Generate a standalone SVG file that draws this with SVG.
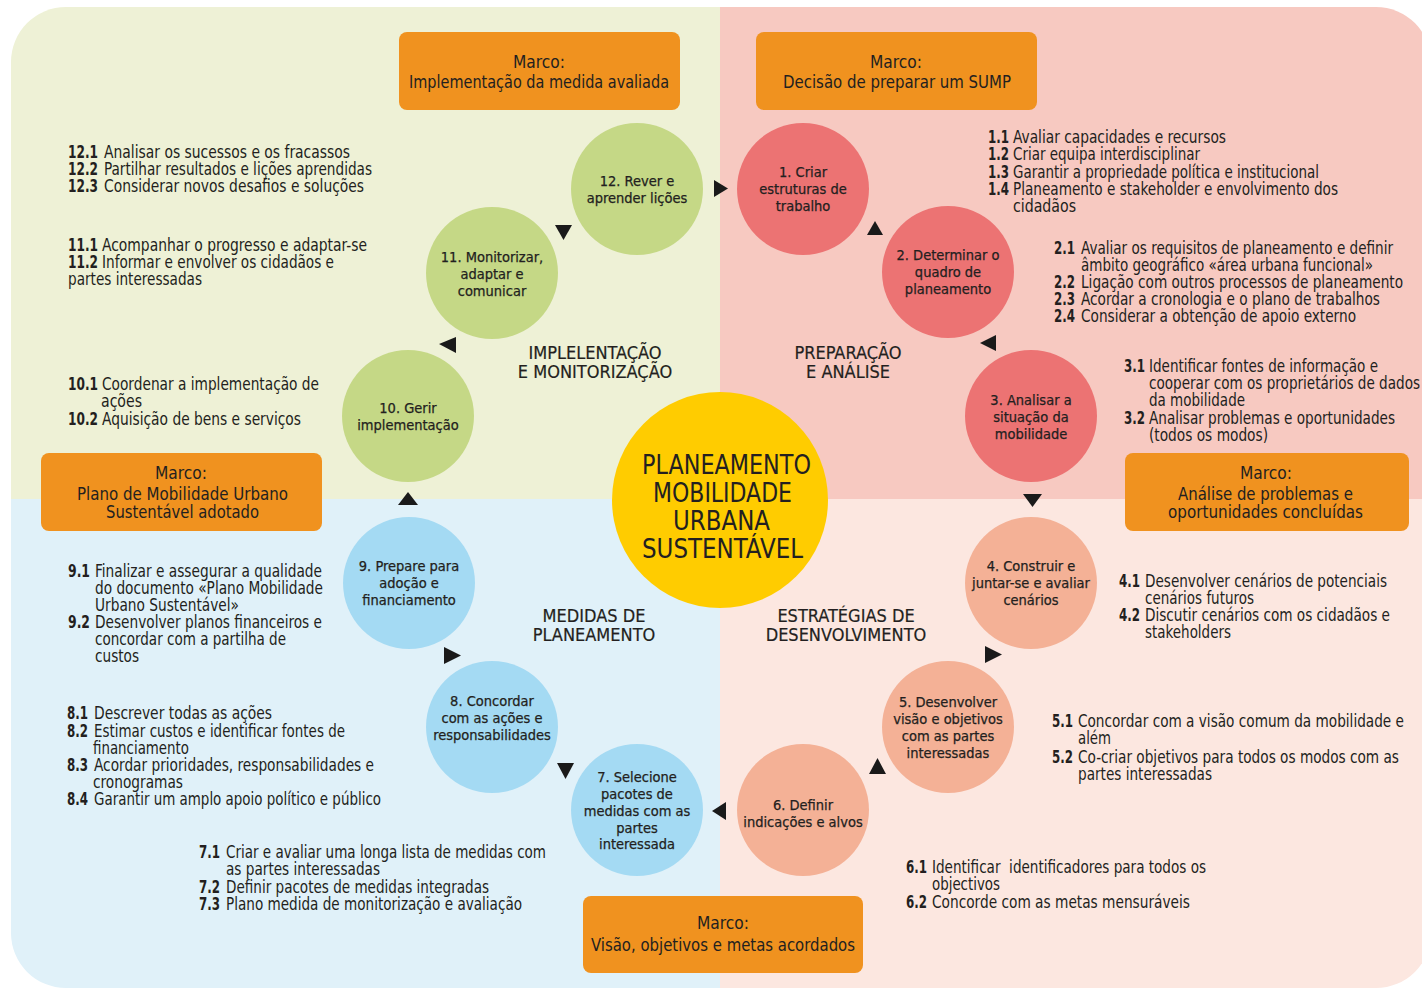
<svg xmlns="http://www.w3.org/2000/svg" width="1422" height="988" viewBox="0 0 1422 988">
<style>
.t{font-family:"DejaVu Sans Condensed","Liberation Sans",sans-serif;fill:#231F20}
.li{font-size:17px}
.b{font-weight:bold}
.c{font-size:14.5px;text-anchor:middle;stroke:#231F20;stroke-width:0.25}
.m{font-size:18px}
.s{font-size:18px;text-anchor:middle;stroke:#231F20;stroke-width:0.2}
.h{font-size:26px}
.ob{fill:#F0921F}
.g{fill:#C5D886}.r{fill:#EC7373}.bl{fill:#A4DAF3}.p{fill:#F4B196}
.ar{fill:#1A1A1A}
</style>
<defs>
<clipPath id="bgc"><rect x="11" y="7" width="1420" height="981" rx="55"/></clipPath>
</defs>
<g id="background" clip-path="url(#bgc)">
<rect x="0" y="0" width="720" height="499" fill="#EEF1D6"/>
<rect x="720" y="0" width="702" height="499" fill="#F7C9C1"/>
<rect x="0" y="499" width="720" height="489" fill="#E0F1F9"/>
<rect x="720" y="499" width="702" height="489" fill="#FCE7E0"/>
</g>
<g id="connectors">
<polygon class="ar" points="714,180 714,197 728,188.5"/>
<polygon class="ar" points="867,235 883,235 875,221"/>
<polygon class="ar" points="996,335 996,351 980,343"/>
<polygon class="ar" points="1023,494 1042,494 1032.5,507"/>
<polygon class="ar" points="985,646 985,663 1002,654.5"/>
<polygon class="ar" points="869,774 886,774 877.5,758"/>
<polygon class="ar" points="726,802 726,820 712,811"/>
<polygon class="ar" points="557,763 574,763 565.5,779"/>
<polygon class="ar" points="444,647 444,664 461,655.5"/>
<polygon class="ar" points="398,505 418,505 408,492"/>
<polygon class="ar" points="456,337 456,353 439,344"/>
<polygon class="ar" points="555,225 572,225 563.5,240"/>
</g>
<g id="center">
<circle cx="720" cy="500" r="108" fill="#FFCC00"/>
<text class="t h" x="642" y="474" textLength="169" lengthAdjust="spacingAndGlyphs">PLANEAMENTO</text>
<text class="t h" x="653" y="502" textLength="139" lengthAdjust="spacingAndGlyphs">MOBILIDADE</text>
<text class="t h" x="673" y="530" textLength="97" lengthAdjust="spacingAndGlyphs">URBANA</text>
<text class="t h" x="642" y="558" textLength="161" lengthAdjust="spacingAndGlyphs">SUSTENTÁVEL</text>
</g>
<g id="milestone-1">
<rect class="ob" x="399" y="32" width="281" height="78" rx="8"/>
<text class="t m" x="513" y="68" textLength="52" lengthAdjust="spacingAndGlyphs">Marco:</text>
<text class="t m" x="409" y="88" textLength="260" lengthAdjust="spacingAndGlyphs">Implementação da medida avaliada</text>
</g>
<g id="milestone-2">
<rect class="ob" x="756" y="32" width="281" height="78" rx="8"/>
<text class="t m" x="870" y="68" textLength="52" lengthAdjust="spacingAndGlyphs">Marco:</text>
<text class="t m" x="783" y="88" textLength="228" lengthAdjust="spacingAndGlyphs">Decisão de preparar um SUMP</text>
</g>
<g id="milestone-3">
<rect class="ob" x="41" y="453" width="281" height="78" rx="8"/>
<text class="t m" x="155" y="479" textLength="52" lengthAdjust="spacingAndGlyphs">Marco:</text>
<text class="t m" x="77" y="500" textLength="211" lengthAdjust="spacingAndGlyphs">Plano de Mobilidade Urbano</text>
<text class="t m" x="106" y="518" textLength="153" lengthAdjust="spacingAndGlyphs">Sustentável adotado</text>
</g>
<g id="milestone-4">
<rect class="ob" x="1125" y="453" width="284" height="78" rx="8"/>
<text class="t m" x="1240" y="479" textLength="52" lengthAdjust="spacingAndGlyphs">Marco:</text>
<text class="t m" x="1178" y="500" textLength="175" lengthAdjust="spacingAndGlyphs">Análise de problemas e</text>
<text class="t m" x="1168" y="518" textLength="195" lengthAdjust="spacingAndGlyphs">oportunidades concluídas</text>
</g>
<g id="milestone-5">
<rect class="ob" x="583" y="896" width="280" height="77" rx="8"/>
<text class="t m" x="697" y="929" textLength="52" lengthAdjust="spacingAndGlyphs">Marco:</text>
<text class="t m" x="591" y="951" textLength="264" lengthAdjust="spacingAndGlyphs">Visão, objetivos e metas acordados</text>
</g>
<g id="phase-labels">
<text class="t s" x="595" y="359">IMPLELENTAÇÃO</text>
<text class="t s" x="595" y="378">E MONITORIZAÇÃO</text>
<text class="t s" x="848" y="359">PREPARAÇÃO</text>
<text class="t s" x="848" y="378">E ANÁLISE</text>
<text class="t s" x="594" y="622">MEDIDAS DE</text>
<text class="t s" x="594" y="641">PLANEAMENTO</text>
<text class="t s" x="846" y="622">ESTRATÉGIAS DE</text>
<text class="t s" x="846" y="641">DESENVOLVIMENTO</text>
</g>
<g id="step-1">
<circle class="r" cx="803" cy="189" r="66"/>
<text class="t c" x="803" y="177">1. Criar</text>
<text class="t c" x="803" y="194">estruturas de</text>
<text class="t c" x="803" y="211">trabalho</text>
</g>
<g id="step-2">
<circle class="r" cx="948" cy="272" r="66"/>
<text class="t c" x="948" y="260">2. Determinar o</text>
<text class="t c" x="948" y="277">quadro de</text>
<text class="t c" x="948" y="294">planeamento</text>
</g>
<g id="step-3">
<circle class="r" cx="1031" cy="416" r="66"/>
<text class="t c" x="1031" y="405">3. Analisar a</text>
<text class="t c" x="1031" y="422">situação da</text>
<text class="t c" x="1031" y="439">mobilidade</text>
</g>
<g id="step-4">
<circle class="p" cx="1031" cy="583" r="66"/>
<text class="t c" x="1031" y="571">4. Construir e</text>
<text class="t c" x="1031" y="588">juntar-se e avaliar</text>
<text class="t c" x="1031" y="605">cenários</text>
</g>
<g id="step-5">
<circle class="p" cx="948" cy="727" r="66"/>
<text class="t c" x="948" y="707">5. Desenvolver</text>
<text class="t c" x="948" y="724">visão e objetivos</text>
<text class="t c" x="948" y="741">com as partes</text>
<text class="t c" x="948" y="758">interessadas</text>
</g>
<g id="step-6">
<circle class="p" cx="803" cy="810" r="66"/>
<text class="t c" x="803" y="810">6. Definir</text>
<text class="t c" x="803" y="827">indicações e alvos</text>
</g>
<g id="step-7">
<circle class="bl" cx="637" cy="810" r="66"/>
<text class="t c" x="637" y="782">7. Selecione</text>
<text class="t c" x="637" y="799">pacotes de</text>
<text class="t c" x="637" y="816">medidas com as</text>
<text class="t c" x="637" y="833">partes</text>
<text class="t c" x="637" y="849">interessada</text>
</g>
<g id="step-8">
<circle class="bl" cx="492" cy="727" r="66"/>
<text class="t c" x="492" y="706">8. Concordar</text>
<text class="t c" x="492" y="723">com as ações e</text>
<text class="t c" x="492" y="740">responsabilidades</text>
</g>
<g id="step-9">
<circle class="bl" cx="409" cy="583" r="66"/>
<text class="t c" x="409" y="571">9. Prepare para</text>
<text class="t c" x="409" y="588">adoção e</text>
<text class="t c" x="409" y="605">financiamento</text>
</g>
<g id="step-10">
<circle class="g" cx="408" cy="416" r="66"/>
<text class="t c" x="408" y="413">10. Gerir</text>
<text class="t c" x="408" y="430">implementação</text>
</g>
<g id="step-11">
<circle class="g" cx="492" cy="273" r="66"/>
<text class="t c" x="492" y="262">11. Monitorizar,</text>
<text class="t c" x="492" y="279">adaptar e</text>
<text class="t c" x="492" y="296">comunicar</text>
</g>
<g id="step-12">
<circle class="g" cx="637" cy="189" r="66"/>
<text class="t c" x="637" y="186">12. Rever e</text>
<text class="t c" x="637" y="203">aprender lições</text>
</g>
<g id="tasks-12" class="t li">
<text class="b" x="68" y="158" textLength="30" lengthAdjust="spacingAndGlyphs">12.1</text>
<text x="104" y="158" textLength="246" lengthAdjust="spacingAndGlyphs">Analisar os sucessos e os fracassos</text>
<text class="b" x="68" y="175" textLength="30" lengthAdjust="spacingAndGlyphs">12.2</text>
<text x="104" y="175" textLength="268" lengthAdjust="spacingAndGlyphs">Partilhar resultados e lições aprendidas</text>
<text class="b" x="68" y="192" textLength="30" lengthAdjust="spacingAndGlyphs">12.3</text>
<text x="104" y="192" textLength="260" lengthAdjust="spacingAndGlyphs">Considerar novos desafios e soluções</text>
</g>
<g id="tasks-11" class="t li">
<text class="b" x="68" y="251" textLength="30" lengthAdjust="spacingAndGlyphs">11.1</text>
<text x="102" y="251" textLength="265" lengthAdjust="spacingAndGlyphs">Acompanhar o progresso e adaptar-se</text>
<text class="b" x="68" y="268" textLength="30" lengthAdjust="spacingAndGlyphs">11.2</text>
<text x="102" y="268" textLength="232" lengthAdjust="spacingAndGlyphs">Informar e envolver os cidadãos e</text>
<text x="68" y="285" textLength="134" lengthAdjust="spacingAndGlyphs">partes interessadas</text>
</g>
<g id="tasks-10" class="t li">
<text class="b" x="68" y="390" textLength="30" lengthAdjust="spacingAndGlyphs">10.1</text>
<text x="102" y="390" textLength="217" lengthAdjust="spacingAndGlyphs">Coordenar a implementação de</text>
<text x="101" y="407" textLength="41" lengthAdjust="spacingAndGlyphs">ações</text>
<text class="b" x="68" y="425" textLength="30" lengthAdjust="spacingAndGlyphs">10.2</text>
<text x="102" y="425" textLength="199" lengthAdjust="spacingAndGlyphs">Aquisição de bens e serviços</text>
</g>
<g id="tasks-9" class="t li">
<text class="b" x="68" y="577" textLength="22" lengthAdjust="spacingAndGlyphs">9.1</text>
<text x="95" y="577" textLength="227" lengthAdjust="spacingAndGlyphs">Finalizar e assegurar a qualidade</text>
<text x="95" y="594" textLength="228" lengthAdjust="spacingAndGlyphs">do documento «Plano Mobilidade</text>
<text x="95" y="611" textLength="144" lengthAdjust="spacingAndGlyphs">Urbano Sustentável»</text>
<text class="b" x="68" y="628" textLength="22" lengthAdjust="spacingAndGlyphs">9.2</text>
<text x="95" y="628" textLength="227" lengthAdjust="spacingAndGlyphs">Desenvolver planos financeiros e</text>
<text x="95" y="645" textLength="191" lengthAdjust="spacingAndGlyphs">concordar com a partilha de</text>
<text x="95" y="662" textLength="44" lengthAdjust="spacingAndGlyphs">custos</text>
</g>
<g id="tasks-8" class="t li">
<text class="b" x="67" y="719" textLength="21" lengthAdjust="spacingAndGlyphs">8.1</text>
<text x="94" y="719" textLength="178" lengthAdjust="spacingAndGlyphs">Descrever todas as ações</text>
<text class="b" x="67" y="737" textLength="21" lengthAdjust="spacingAndGlyphs">8.2</text>
<text x="94" y="737" textLength="251" lengthAdjust="spacingAndGlyphs">Estimar custos e identificar fontes de</text>
<text x="93" y="754" textLength="96" lengthAdjust="spacingAndGlyphs">financiamento</text>
<text class="b" x="67" y="771" textLength="21" lengthAdjust="spacingAndGlyphs">8.3</text>
<text x="94" y="771" textLength="280" lengthAdjust="spacingAndGlyphs">Acordar prioridades, responsabilidades e</text>
<text x="93" y="788" textLength="90" lengthAdjust="spacingAndGlyphs">cronogramas</text>
<text class="b" x="67" y="805" textLength="21" lengthAdjust="spacingAndGlyphs">8.4</text>
<text x="94" y="805" textLength="287" lengthAdjust="spacingAndGlyphs">Garantir um amplo apoio político e público</text>
</g>
<g id="tasks-7" class="t li">
<text class="b" x="199" y="858" textLength="21" lengthAdjust="spacingAndGlyphs">7.1</text>
<text x="226" y="858" textLength="320" lengthAdjust="spacingAndGlyphs">Criar e avaliar uma longa lista de medidas com</text>
<text x="226" y="875" textLength="154" lengthAdjust="spacingAndGlyphs">as partes interessadas</text>
<text class="b" x="199" y="893" textLength="21" lengthAdjust="spacingAndGlyphs">7.2</text>
<text x="226" y="893" textLength="263" lengthAdjust="spacingAndGlyphs">Definir pacotes de medidas integradas</text>
<text class="b" x="199" y="910" textLength="21" lengthAdjust="spacingAndGlyphs">7.3</text>
<text x="226" y="910" textLength="296" lengthAdjust="spacingAndGlyphs">Plano medida de monitorização e avaliação</text>
</g>
<g id="tasks-1" class="t li">
<text class="b" x="988" y="143" textLength="21" lengthAdjust="spacingAndGlyphs">1.1</text>
<text x="1013" y="143" textLength="213" lengthAdjust="spacingAndGlyphs">Avaliar capacidades e recursos</text>
<text class="b" x="988" y="160" textLength="21" lengthAdjust="spacingAndGlyphs">1.2</text>
<text x="1013" y="160" textLength="187" lengthAdjust="spacingAndGlyphs">Criar equipa interdisciplinar</text>
<text class="b" x="988" y="178" textLength="21" lengthAdjust="spacingAndGlyphs">1.3</text>
<text x="1013" y="178" textLength="306" lengthAdjust="spacingAndGlyphs">Garantir a propriedade política e institucional</text>
<text class="b" x="988" y="195" textLength="21" lengthAdjust="spacingAndGlyphs">1.4</text>
<text x="1013" y="195" textLength="325" lengthAdjust="spacingAndGlyphs">Planeamento e stakeholder e envolvimento dos</text>
<text x="1013" y="212" textLength="63" lengthAdjust="spacingAndGlyphs">cidadãos</text>
</g>
<g id="tasks-2" class="t li">
<text class="b" x="1054" y="254" textLength="21" lengthAdjust="spacingAndGlyphs">2.1</text>
<text x="1081" y="254" textLength="312" lengthAdjust="spacingAndGlyphs">Avaliar os requisitos de planeamento e definir</text>
<text x="1081" y="271" textLength="292" lengthAdjust="spacingAndGlyphs">âmbito geográfico «área urbana funcional»</text>
<text class="b" x="1054" y="288" textLength="21" lengthAdjust="spacingAndGlyphs">2.2</text>
<text x="1081" y="288" textLength="322" lengthAdjust="spacingAndGlyphs">Ligação com outros processos de planeamento</text>
<text class="b" x="1054" y="305" textLength="21" lengthAdjust="spacingAndGlyphs">2.3</text>
<text x="1081" y="305" textLength="299" lengthAdjust="spacingAndGlyphs">Acordar a cronologia e o plano de trabalhos</text>
<text class="b" x="1054" y="322" textLength="21" lengthAdjust="spacingAndGlyphs">2.4</text>
<text x="1081" y="322" textLength="275" lengthAdjust="spacingAndGlyphs">Considerar a obtenção de apoio externo</text>
</g>
<g id="tasks-3" class="t li">
<text class="b" x="1124" y="372" textLength="21" lengthAdjust="spacingAndGlyphs">3.1</text>
<text x="1149" y="372" textLength="229" lengthAdjust="spacingAndGlyphs">Identificar fontes de informação e</text>
<text x="1149" y="389" textLength="271" lengthAdjust="spacingAndGlyphs">cooperar com os proprietários de dados</text>
<text x="1149" y="406" textLength="96" lengthAdjust="spacingAndGlyphs">da mobilidade</text>
<text class="b" x="1124" y="424" textLength="21" lengthAdjust="spacingAndGlyphs">3.2</text>
<text x="1149" y="424" textLength="246" lengthAdjust="spacingAndGlyphs">Analisar problemas e oportunidades</text>
<text x="1149" y="441" textLength="119" lengthAdjust="spacingAndGlyphs">(todos os modos)</text>
</g>
<g id="tasks-4" class="t li">
<text class="b" x="1119" y="587" textLength="21" lengthAdjust="spacingAndGlyphs">4.1</text>
<text x="1145" y="587" textLength="242" lengthAdjust="spacingAndGlyphs">Desenvolver cenários de potenciais</text>
<text x="1145" y="604" textLength="109" lengthAdjust="spacingAndGlyphs">cenários futuros</text>
<text class="b" x="1119" y="621" textLength="21" lengthAdjust="spacingAndGlyphs">4.2</text>
<text x="1145" y="621" textLength="245" lengthAdjust="spacingAndGlyphs">Discutir cenários com os cidadãos e</text>
<text x="1145" y="638" textLength="86" lengthAdjust="spacingAndGlyphs">stakeholders</text>
</g>
<g id="tasks-5" class="t li">
<text class="b" x="1052" y="727" textLength="21" lengthAdjust="spacingAndGlyphs">5.1</text>
<text x="1078" y="727" textLength="326" lengthAdjust="spacingAndGlyphs">Concordar com a visão comum da mobilidade e</text>
<text x="1078" y="744" textLength="33" lengthAdjust="spacingAndGlyphs">além</text>
<text class="b" x="1052" y="763" textLength="21" lengthAdjust="spacingAndGlyphs">5.2</text>
<text x="1078" y="763" textLength="321" lengthAdjust="spacingAndGlyphs">Co-criar objetivos para todos os modos com as</text>
<text x="1078" y="780" textLength="134" lengthAdjust="spacingAndGlyphs">partes interessadas</text>
</g>
<g id="tasks-6" class="t li">
<text class="b" x="906" y="873" textLength="21" lengthAdjust="spacingAndGlyphs">6.1</text>
<text x="932" y="873" textLength="274" lengthAdjust="spacingAndGlyphs" xml:space="preserve">Identificar  identificadores para todos os</text>
<text x="932" y="890" textLength="68" lengthAdjust="spacingAndGlyphs">objectivos</text>
<text class="b" x="906" y="908" textLength="21" lengthAdjust="spacingAndGlyphs">6.2</text>
<text x="932" y="908" textLength="258" lengthAdjust="spacingAndGlyphs">Concorde com as metas mensuráveis</text>
</g>
</svg>
